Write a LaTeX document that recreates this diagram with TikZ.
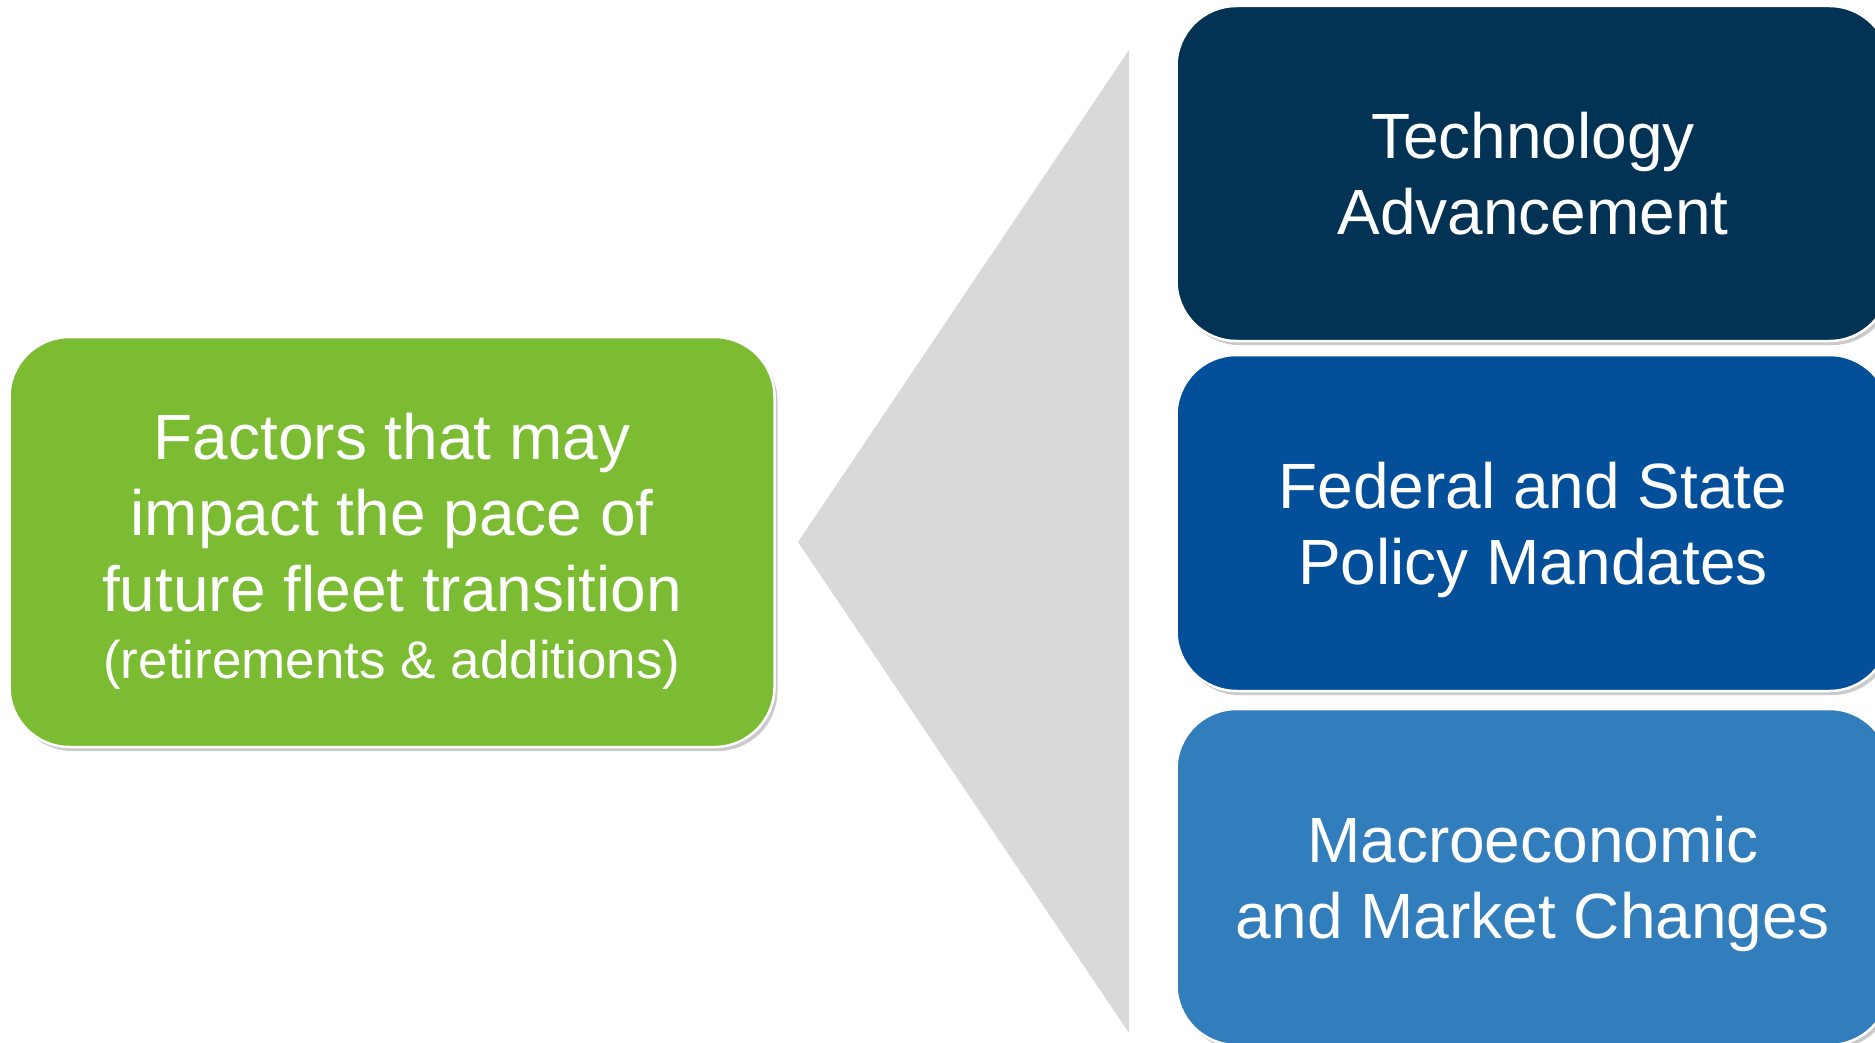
\documentclass[tikz,border=0pt]{standalone}
\usepackage{fontspec}
\setmainfont{Liberation Sans}
\usetikzlibrary{shadows}
\definecolor{cgreen}{RGB}{123,188,51}
\definecolor{cnavy}{RGB}{2,51,84}
\definecolor{cmid}{RGB}{3,79,154}
\definecolor{clight}{RGB}{50,125,188}
\definecolor{cgrey}{RGB}{217,217,217}
\tikzset{
  card/.style={rectangle, rounded corners=60pt, draw=white, line width=2.5pt,
    inner sep=0pt,
    drop shadow={shadow xshift=3pt, shadow yshift=-4pt, opacity=0.35, fill=black!60}},
  cardtext/.style={text=white, align=center, inner sep=0pt,
    font=\fontsize{64}{76}\selectfont},
}
\begin{document}
\begin{tikzpicture}[x=1pt,y=-1pt]
\useasboundingbox (0,0) rectangle (1875,1043);
\clip (0,0) rectangle (1875,1043);
% grey wedge
\coordinate (tapex) at (798,542);
\coordinate (ttop) at (1129,50);
\coordinate (tbot) at (1129,1033);
\fill[cgrey] (tapex) -- (ttop) -- (tbot) -- cycle;
% left box
\node[card, fill=cgreen, minimum width=765pt, minimum height=410pt] (main) at (392,542) {};
\node[cardtext] (maintext) at ([yshift=-9pt]main.center)
  {Factors that may\\impact the pace of\\future fleet transition\\[-9pt]{\fontsize{53}{60}\selectfont (retirements \& additions)}};
% right boxes
\node[card, fill=cnavy, minimum width=713pt, minimum height=335pt] (tech) at (1533,173.5) {};
\node[cardtext] (techtext) at (tech.center) {Technology\\Advancement};
\node[card, fill=cmid, minimum width=713pt, minimum height=336pt] (policy) at (1533,523) {};
\node[cardtext] (policytext) at ([yshift=-7pt]policy.center) {Federal and State\\Policy Mandates};
\node[card, fill=clight, minimum width=713pt, minimum height=336pt] (macro) at (1533,877) {};
\node[cardtext] (macrotext) at ([yshift=-7pt]macro.center) {Macroeconomic\\and Market Changes};
\end{tikzpicture}
\end{document}
